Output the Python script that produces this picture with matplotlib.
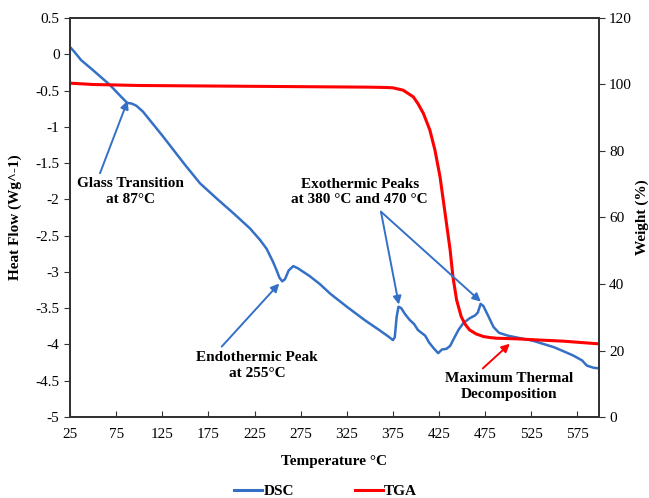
import numpy as np
import matplotlib.pyplot as plt
from matplotlib.lines import Line2D

plt.rcParams['font.family'] = ['Liberation Serif', 'DejaVu Serif']

# DSC heat flow (W/g) vs temperature (°C)
dsc_temp = [25, 30, 37, 50, 68, 80, 87, 92, 97, 104, 125, 150, 166, 185, 202, 220, 231, 238,
            245, 249, 252, 255, 258, 262, 267, 272, 285, 296, 307, 325, 345, 360, 370, 375,
            377, 379, 381, 384, 388, 393, 398, 402, 406, 410, 414, 419, 424, 428, 433, 437,
            441, 446, 451, 458, 464, 467, 470, 473, 478, 484, 490, 500, 527, 550, 570, 580,
            585, 592, 598]
dsc_flow = [0.10, 0.03, -0.08, -0.22, -0.42, -0.58, -0.67, -0.68, -0.71, -0.79, -1.12, -1.53,
            -1.78, -2.00, -2.19, -2.40, -2.56, -2.68, -2.86, -2.98, -3.08, -3.13, -3.10, -2.98,
            -2.92, -2.95, -3.06, -3.17, -3.30, -3.48, -3.67, -3.80, -3.89, -3.94, -3.90, -3.62,
            -3.48, -3.50, -3.58, -3.66, -3.72, -3.80, -3.84, -3.88, -3.97, -4.05, -4.12, -4.07,
            -4.06, -4.02, -3.92, -3.80, -3.71, -3.64, -3.60, -3.56, -3.44, -3.47, -3.60, -3.76,
            -3.84, -3.88, -3.95, -4.04, -4.15, -4.22, -4.29, -4.32, -4.33]

# TGA weight (%) vs temperature (°C)
tga_temp = [25, 50, 100, 200, 300, 350, 368, 375, 386, 397, 402, 408, 415, 420.5, 426, 431,
            437, 440, 444, 449, 453, 458, 465, 473, 480, 487, 510, 530, 560, 598]
tga_weight = [100.4, 100.0, 99.7, 99.5, 99.3, 99.2, 99.1, 99.0, 98.3, 96.3, 94.3, 91.3, 86.3,
              80.3, 72.3, 62.3, 50.2, 42.2, 35.2, 30.2, 28.0, 26.2, 25.0, 24.2, 23.9, 23.7,
              23.5, 23.2, 22.8, 22.0]

x_ticks = list(range(25, 600, 50))
left_ticks = [0.5, 0, -0.5, -1, -1.5, -2, -2.5, -3, -3.5, -4, -4.5, -5]
right_ticks = [0, 20, 40, 60, 80, 100, 120]

blue = '#3470c6'
red = '#ff0000'
spine_col = '#333333'

fig = plt.figure(figsize=(6.49, 4.98), dpi=100)
ax = fig.add_axes([70 / 649, 1 - 417 / 498, 528.7 / 649, 399 / 498])
ax.plot(dsc_temp, dsc_flow, color=blue, lw=1.8, solid_capstyle='round')
ax.set_xlim(25, 598)
ax.set_ylim(-5, 0.5)
ax.set_xticks(x_ticks)
ax.set_yticks(left_ticks)
ax.set_yticklabels([f'{t:g}' for t in left_ticks])
ax.tick_params(axis='x', direction='in', length=4, labelsize=11, pad=8, color=spine_col)
ax.tick_params(axis='y', direction='out', length=4, labelsize=11, color=spine_col)
ax.set_xlabel('Temperature °C', fontsize=11, fontweight='bold', labelpad=10)
ax.set_ylabel('Heat Flow (Wg^-1)', fontsize=11, fontweight='bold', labelpad=10)

ax2 = ax.twinx()
ax2.plot(tga_temp, tga_weight, color=red, lw=2.2)
ax2.set_ylim(0, 120)
ax2.set_yticks(right_ticks)
ax2.tick_params(axis='y', direction='out', length=4, labelsize=11, color=spine_col)
ax2.set_ylabel('Weight (%)', fontsize=11, fontweight='bold', rotation=90)
ax2.yaxis.set_label_coords((636 - 70) / 528.7, 0.5)

for a in (ax, ax2):
    for s in a.spines.values():
        s.set_color(spine_col)
        s.set_linewidth(1.3)

# annotations
arrow_blue = dict(arrowstyle='-|>', color=blue, lw=1.4, mutation_scale=12, shrinkA=0, shrinkB=0)
arrow_red = dict(arrowstyle='-|>', color=red, lw=1.4, mutation_scale=12, shrinkA=0, shrinkB=0)
tk = dict(fontsize=11, fontweight='bold', ha='center', va='center', linespacing=1.25)

ax.text(91, -1.89, 'Glass Transition\nat 87°C', **tk)
ax2.annotate('', xy=(87.5, -0.64), xytext=(57.5, -1.64), xycoords=ax.transData,
             textcoords=ax.transData, arrowprops=arrow_blue)

ax.text(227.6, -4.29, 'Endothermic Peak\nat 255°C', **tk)
ax2.annotate('', xy=(251.8, -3.16), xytext=(189.4, -4.03), xycoords=ax.transData,
             textcoords=ax.transData, arrowprops=arrow_blue)

ax.text(339, -1.9, 'Exothermic Peaks\nat 380 °C and 470 °C', **tk)
for tip in [(381.4, -3.45), (470.3, -3.41)]:
    ax2.annotate('', xy=tip, xytext=(362, -2.17), xycoords=ax.transData,
                 textcoords=ax.transData, arrowprops=arrow_blue)

ax.text(500.6, -4.58, 'Maximum Thermal\nDecomposition', **tk)
ax2.annotate('', xy=(501.7, -3.99), xytext=(472.4, -4.33), xycoords=ax.transData,
             textcoords=ax.transData, arrowprops=arrow_red)

handles = [Line2D([], [], color=blue, lw=2.2), Line2D([], [], color=red, lw=2.2)]
fig.legend(handles, ['DSC', 'TGA'], loc='center', bbox_to_anchor=(0.502, 1 - 491 / 498),
           ncol=2, frameon=False, handlelength=1.8, handletextpad=0.1, columnspacing=4,
           prop={'size': 11, 'weight': 'bold'})

fig.savefig('out.png', dpi=100)
